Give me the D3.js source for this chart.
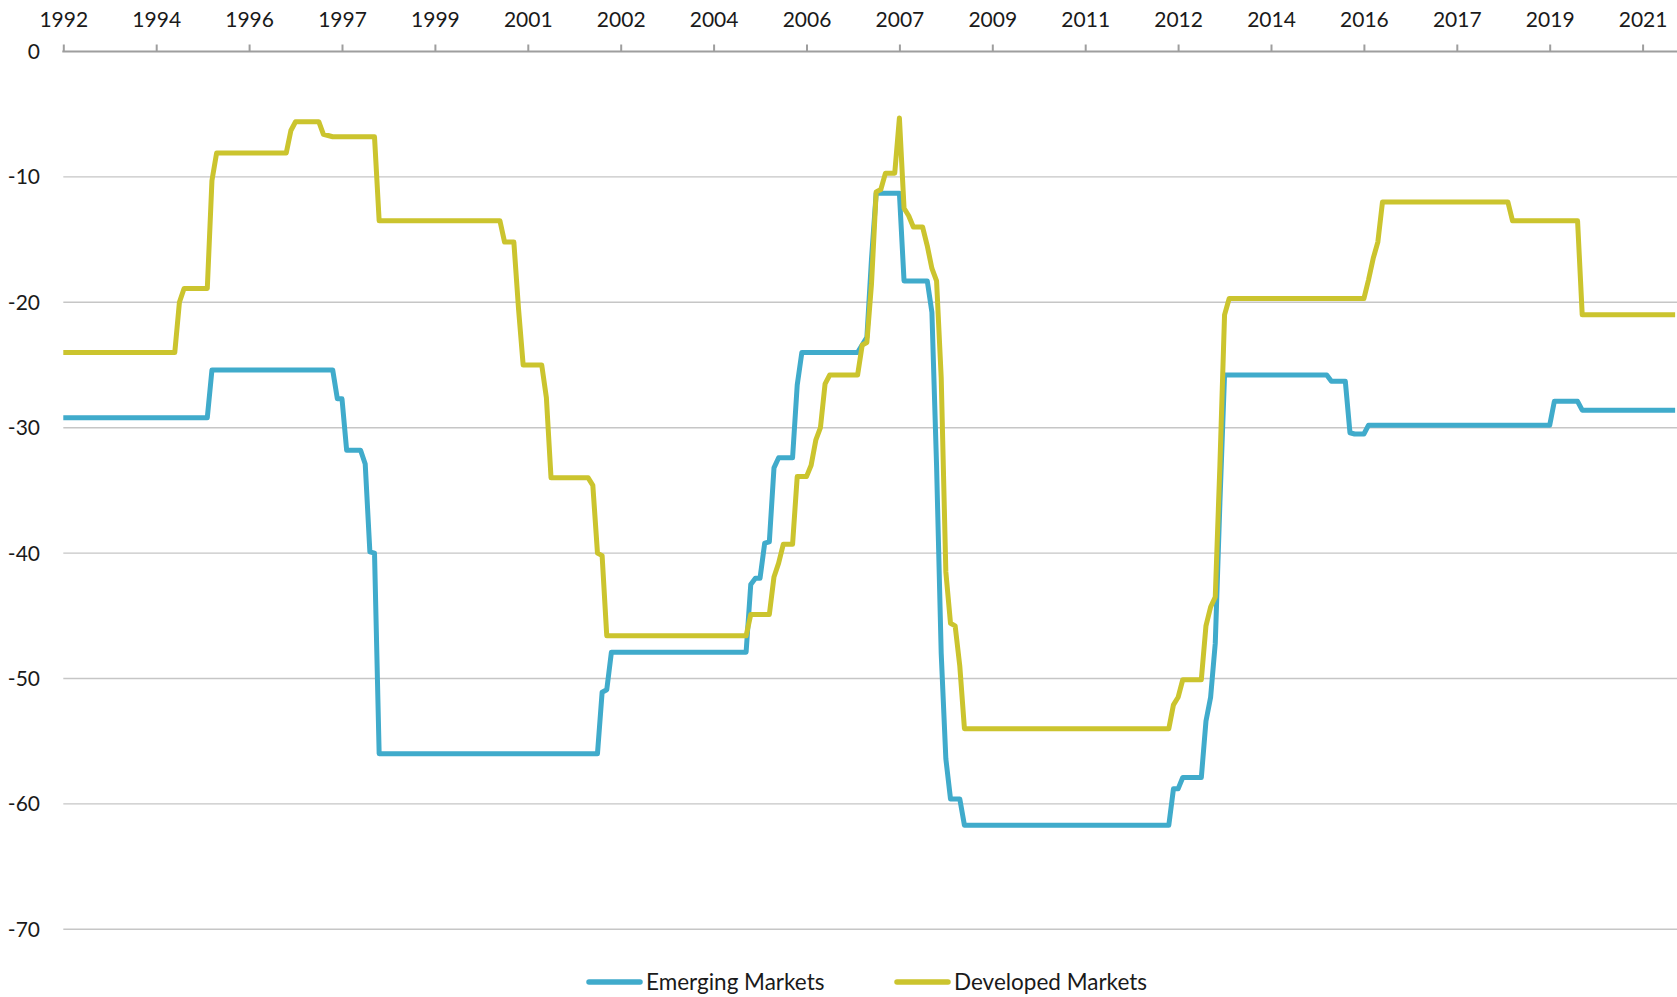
<!DOCTYPE html>
<html>
<head>
<meta charset="utf-8">
<script src="https://cdn.jsdelivr.net/npm/d3@7"></script>
<style>
  html, body { margin: 0; padding: 0; background: #ffffff; }
  svg { display: block; }
  text { font-family: Lato, "Noto Sans", sans-serif; fill: #1a1a1a; }
</style>
</head>
<body>
<svg id="chart" width="1677" height="997"></svg>
<script>
// ---- data (monthly points; index 0 = first month of the series) ----
const xTickLabels = ["1992","1994","1996","1997","1999","2001","2002","2004","2006",
                     "2007","2009","2011","2012","2014","2016","2017","2019","2021"];
const xTickEvery = 20;          // one label every 20 monthly points
const lastIndex = 347;
const yTicks = [0, -10, -20, -30, -40, -50, -60, -70];
const yTickLabels = ["0", "-10", "-20", "-30", "-40", "-50", "-60", "-70"];
const seriesNames = ["Emerging Markets", "Developed Markets"];

// Emerging Markets: month index of each corner and its value
const emergingIdx = [0,31,32,58,59,60,61,64,65,66,67,68,115,116,117,118,147,148,149,150,151,152,153,154,157,158,159,171,172,173,174,175,180,181,186,187,188,189,190,191,193,194,238,239,240,241,245,246,247,248,249,250,272,273,276,277,278,280,281,320,321,326,327,347];
const emergingVal = [-29.2,-29.2,-25.4,-25.4,-27.7,-27.7,-31.8,-31.8,-32.9,-39.9,-40.0,-56.0,-56.0,-51.1,-50.9,-47.9,-47.9,-42.5,-42.0,-42.0,-39.2,-39.1,-33.2,-32.4,-32.4,-26.6,-24.0,-24.0,-23.4,-22.8,-16.5,-11.3,-11.3,-18.3,-18.3,-20.8,-33.0,-48.0,-56.4,-59.6,-59.6,-61.7,-61.7,-58.8,-58.8,-57.9,-57.9,-53.4,-51.5,-47.2,-36.0,-25.8,-25.8,-26.3,-26.3,-30.4,-30.5,-30.5,-29.8,-29.8,-27.9,-27.9,-28.6,-28.6];

// Developed Markets
const developedIdx = [0,24,25,26,31,32,33,48,49,50,55,56,58,67,68,94,95,97,98,99,103,104,105,113,114,115,116,117,147,148,152,153,154,155,157,158,160,161,162,163,164,165,171,172,173,174,175,176,177,179,180,181,182,183,185,186,187,188,189,190,191,192,193,194,238,239,240,241,245,246,247,248,249,250,251,280,281,282,283,284,311,312,326,327,347];
const developedVal = [-24.0,-24.0,-20.0,-18.9,-18.9,-10.3,-8.1,-8.1,-6.3,-5.6,-5.6,-6.6,-6.8,-6.8,-13.5,-13.5,-15.2,-15.2,-20.5,-25.0,-25.0,-27.6,-34.0,-34.0,-34.6,-40.0,-40.2,-46.6,-46.6,-44.9,-44.9,-41.9,-40.8,-39.3,-39.3,-33.9,-33.9,-33.0,-31.0,-30.0,-26.5,-25.8,-25.8,-23.4,-23.2,-18.5,-11.2,-11.0,-9.7,-9.7,-5.3,-12.5,-13.1,-14.0,-14.0,-15.5,-17.3,-18.3,-26.0,-41.5,-45.6,-45.8,-49.0,-54.0,-54.0,-52.1,-51.5,-50.1,-50.1,-45.8,-44.3,-43.5,-33.0,-21.0,-19.7,-19.7,-18.2,-16.5,-15.2,-12.0,-12.0,-13.5,-13.5,-21.0,-21.0];

const colors = ["#40abcb", "#cbc42e"];

// ---- layout ----
const plotLeft = 63.3, plotRight = 1677, pxPerPoint = 4.645;
const plotTop = 51.5, plotBottom = 929.3;

const svg = d3.select("#chart");
const x = d3.scaleLinear().domain([0, lastIndex]).range([plotLeft, plotLeft + lastIndex * pxPerPoint]);
const y = d3.scaleLinear().domain([0, -70]).range([plotTop, plotBottom]);

// gridlines
svg.append("g").selectAll("line")
  .data(yTicks.filter(d => d !== 0))
  .join("line")
  .attr("x1", plotLeft).attr("x2", plotRight)
  .attr("y1", d => y(d)).attr("y2", d => y(d))
  .attr("stroke", "#c6c6c6").attr("stroke-width", 1.4);

// y labels
svg.append("g").selectAll("text")
  .data(yTicks)
  .join("text")
  .attr("x", 40).attr("y", d => y(d))
  .attr("dy", "0.36em")
  .attr("text-anchor", "end")
  .attr("font-size", 21)
  .text((d, i) => yTickLabels[i]);

// top x axis
const tickVals = xTickLabels.map((_, i) => i * xTickEvery);
const xAxis = d3.axisTop(x)
  .tickValues(tickVals)
  .tickSize(7)
  .tickSizeOuter(0)
  .tickFormat((d, i) => xTickLabels[i]);
const gx = svg.append("g").attr("transform", `translate(0,${plotTop})`).call(xAxis);
gx.select(".domain").remove();
gx.selectAll(".tick line").attr("stroke", "#9e9e9e").attr("stroke-width", 2);
gx.selectAll(".tick text")
  .attr("font-size", 21)
  .attr("font-family", "Lato, 'Noto Sans', sans-serif")
  .attr("fill", "#1a1a1a")
  .attr("y", -25)
  .attr("dy", 0);
svg.append("line")
  .attr("x1", plotLeft - 1).attr("x2", plotRight)
  .attr("y1", plotTop).attr("y2", plotTop)
  .attr("stroke", "#9e9e9e").attr("stroke-width", 2);

// lines
const line = d3.line().x(d => x(d[0])).y(d => y(d[1]));
const series = [
  d3.zip(emergingIdx, emergingVal),
  d3.zip(developedIdx, developedVal)
];
svg.append("g").selectAll("path")
  .data(series)
  .join("path")
  .attr("d", line)
  .attr("fill", "none")
  .attr("stroke", (d, i) => colors[i])
  .attr("stroke-width", 5)
  .attr("stroke-linejoin", "round")
  .attr("stroke-linecap", "butt");

// legend
const legendX = [587, 895];
const lg = svg.append("g").selectAll("g")
  .data(seriesNames)
  .join("g")
  .attr("transform", (d, i) => `translate(${legendX[i]},982)`);
lg.append("line")
  .attr("x1", 2).attr("x2", 53)
  .attr("y1", 0).attr("y2", 0)
  .attr("stroke", (d, i) => colors[i])
  .attr("stroke-width", 5.5)
  .attr("stroke-linecap", "round");
lg.append("text")
  .attr("x", 59).attr("y", 0).attr("dy", "0.36em")
  .attr("font-size", 22.5)
  .text(d => d);
</script>
</body>
</html>
